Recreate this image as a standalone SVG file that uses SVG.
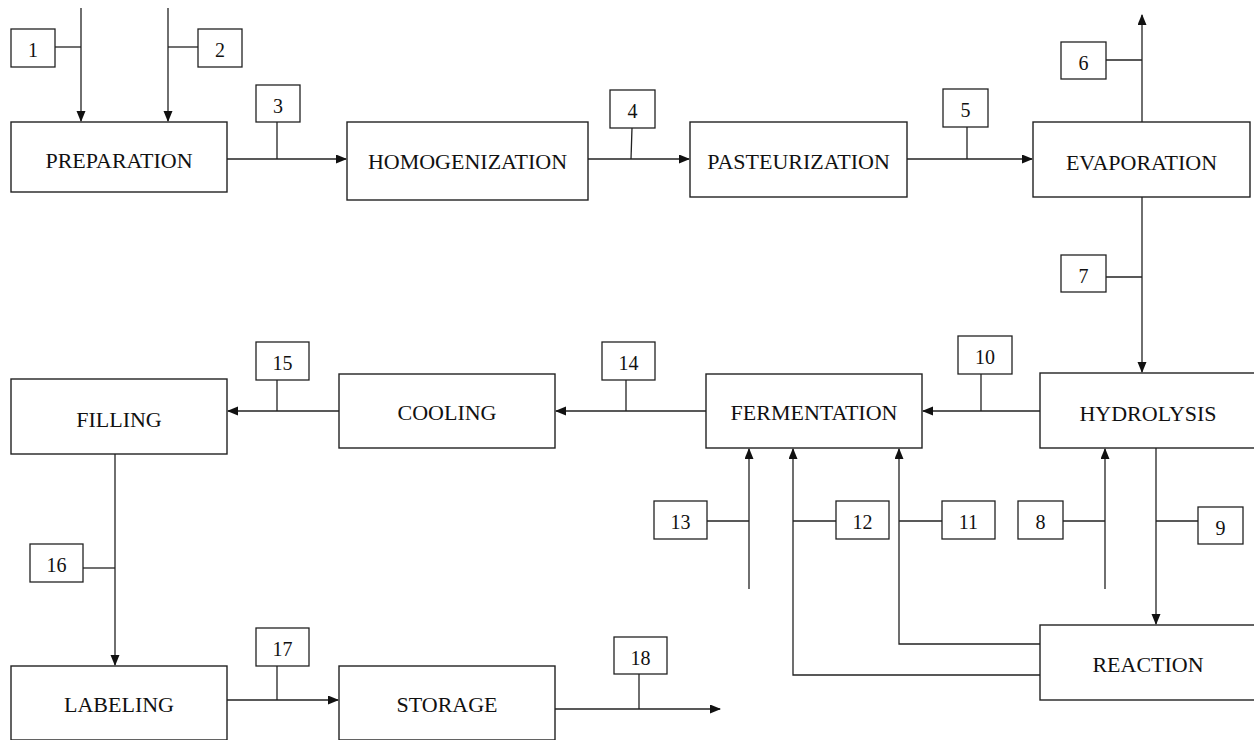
<svg xmlns="http://www.w3.org/2000/svg" width="1254" height="740" viewBox="0 0 1254 740">
<defs>
<style>
.box{fill:#fff;stroke:#222;stroke-width:1.4}
.tag{fill:#fff;stroke:#222;stroke-width:1.3}
.ln{fill:none;stroke:#222;stroke-width:1.3}
.lbl{font-family:"Liberation Serif","Times New Roman",serif;font-size:22px;fill:#111;text-anchor:middle}
.num{font-family:"Liberation Serif","Times New Roman",serif;font-size:20px;fill:#111;text-anchor:middle}
</style>
<marker id="ah" markerUnits="userSpaceOnUse" markerWidth="11" markerHeight="10" refX="10" refY="4.5" orient="auto">
<path d="M0,0 L11,4.5 L0,9 z" fill="#111"/>
</marker>
</defs>
<rect width="1254" height="740" fill="#fff"/>

<g id="connectors">
<path class="ln" d="M81,8 V121" marker-end="url(#ah)"/>
<path class="ln" d="M55,47 H81"/>
<path class="ln" d="M168,8 V121" marker-end="url(#ah)"/>
<path class="ln" d="M168,47 H198"/>
<path class="ln" d="M227,159 H346" marker-end="url(#ah)"/>
<path class="ln" d="M277,122 V159"/>
<path class="ln" d="M588,159 H689" marker-end="url(#ah)"/>
<path class="ln" d="M632,128 L631,159"/>
<path class="ln" d="M907,159 H1032" marker-end="url(#ah)"/>
<path class="ln" d="M967,127 V159"/>
<path class="ln" d="M1142,122 V15" marker-end="url(#ah)"/>
<path class="ln" d="M1106,60 H1142"/>
<path class="ln" d="M1142,197 V372" marker-end="url(#ah)"/>
<path class="ln" d="M1106,277 H1142"/>
<path class="ln" d="M1040,411 H923" marker-end="url(#ah)"/>
<path class="ln" d="M981,374 V411"/>
<path class="ln" d="M706,411 H556" marker-end="url(#ah)"/>
<path class="ln" d="M626,380 V411"/>
<path class="ln" d="M339,411 H228" marker-end="url(#ah)"/>
<path class="ln" d="M277,380 V411"/>
<path class="ln" d="M115,454 V665" marker-end="url(#ah)"/>
<path class="ln" d="M83,568 H115"/>
<path class="ln" d="M227,700 H338" marker-end="url(#ah)"/>
<path class="ln" d="M277,666 V700"/>
<path class="ln" d="M555,709 H720" marker-end="url(#ah)"/>
<path class="ln" d="M639,674 V709"/>
<path class="ln" d="M749,589 V449" marker-end="url(#ah)"/>
<path class="ln" d="M707,521 H749"/>
<path class="ln" d="M1040,675 H793 V449" marker-end="url(#ah)"/>
<path class="ln" d="M793,521 H836"/>
<path class="ln" d="M1040,644 H899 V449" marker-end="url(#ah)"/>
<path class="ln" d="M899,521 H942"/>
<path class="ln" d="M1105,589 V449" marker-end="url(#ah)"/>
<path class="ln" d="M1063,521 H1105"/>
<path class="ln" d="M1156,448 V624" marker-end="url(#ah)"/>
<path class="ln" d="M1156,521 H1198"/>
</g>

<g id="preparation"><rect class="box" x="11" y="122" width="216" height="70"/><text class="lbl" x="119" y="168">PREPARATION</text></g>
<g id="homogenization"><rect class="box" x="347" y="122" width="241" height="78"/><text class="lbl" x="467.5" y="169">HOMOGENIZATION</text></g>
<g id="pasteurization"><rect class="box" x="690" y="122" width="217" height="75"/><text class="lbl" x="798.5" y="169">PASTEURIZATION</text></g>
<g id="evaporation"><rect class="box" x="1033" y="122" width="217" height="75"/><text class="lbl" x="1141.5" y="170">EVAPORATION</text></g>
<g id="hydrolysis"><rect class="box" x="1040" y="373" width="216" height="75"/><text class="lbl" x="1148" y="421">HYDROLYSIS</text></g>
<g id="fermentation"><rect class="box" x="706" y="374" width="216" height="74"/><text class="lbl" x="814" y="420">FERMENTATION</text></g>
<g id="cooling"><rect class="box" x="339" y="374" width="216" height="74"/><text class="lbl" x="447" y="420">COOLING</text></g>
<g id="filling"><rect class="box" x="11" y="379" width="216" height="75"/><text class="lbl" x="119" y="427">FILLING</text></g>
<g id="labeling"><rect class="box" x="11" y="666" width="216" height="74"/><text class="lbl" x="119" y="712">LABELING</text></g>
<g id="storage"><rect class="box" x="339" y="666" width="216" height="74"/><text class="lbl" x="447" y="712">STORAGE</text></g>
<g id="reaction"><rect class="box" x="1040" y="625" width="216" height="75"/><text class="lbl" x="1148" y="672">REACTION</text></g>

<g id="t1"><rect class="tag" x="11" y="29" width="44" height="38"/><text class="num" x="33" y="57">1</text></g>
<g id="t2"><rect class="tag" x="198" y="29" width="44" height="38"/><text class="num" x="220" y="57">2</text></g>
<g id="t3"><rect class="tag" x="256" y="85" width="44" height="37"/><text class="num" x="278" y="113">3</text></g>
<g id="t4"><rect class="tag" x="610" y="90" width="45" height="38"/><text class="num" x="632.5" y="118">4</text></g>
<g id="t5"><rect class="tag" x="943" y="89" width="45" height="38"/><text class="num" x="965.5" y="117">5</text></g>
<g id="t6"><rect class="tag" x="1061" y="42" width="45" height="37"/><text class="num" x="1083.5" y="70">6</text></g>
<g id="t7"><rect class="tag" x="1061" y="255" width="45" height="37"/><text class="num" x="1083.5" y="283">7</text></g>
<g id="t8"><rect class="tag" x="1018" y="501" width="45" height="38"/><text class="num" x="1040.5" y="529">8</text></g>
<g id="t9"><rect class="tag" x="1198" y="507" width="45" height="37"/><text class="num" x="1220.5" y="535">9</text></g>
<g id="t10"><rect class="tag" x="958" y="336" width="54" height="38"/><text class="num" x="985" y="364">10</text></g>
<g id="t11"><rect class="tag" x="942" y="501" width="53" height="38"/><text class="num" x="968.5" y="529">11</text></g>
<g id="t12"><rect class="tag" x="836" y="501" width="53" height="38"/><text class="num" x="862.5" y="529">12</text></g>
<g id="t13"><rect class="tag" x="654" y="501" width="53" height="38"/><text class="num" x="680.5" y="529">13</text></g>
<g id="t14"><rect class="tag" x="602" y="342" width="53" height="38"/><text class="num" x="628.5" y="370">14</text></g>
<g id="t15"><rect class="tag" x="256" y="342" width="53" height="38"/><text class="num" x="282.5" y="370">15</text></g>
<g id="t16"><rect class="tag" x="30" y="544" width="53" height="38"/><text class="num" x="56.5" y="572">16</text></g>
<g id="t17"><rect class="tag" x="256" y="628" width="53" height="38"/><text class="num" x="282.5" y="656">17</text></g>
<g id="t18"><rect class="tag" x="614" y="637" width="53" height="37"/><text class="num" x="640.5" y="665">18</text></g>
</svg>
